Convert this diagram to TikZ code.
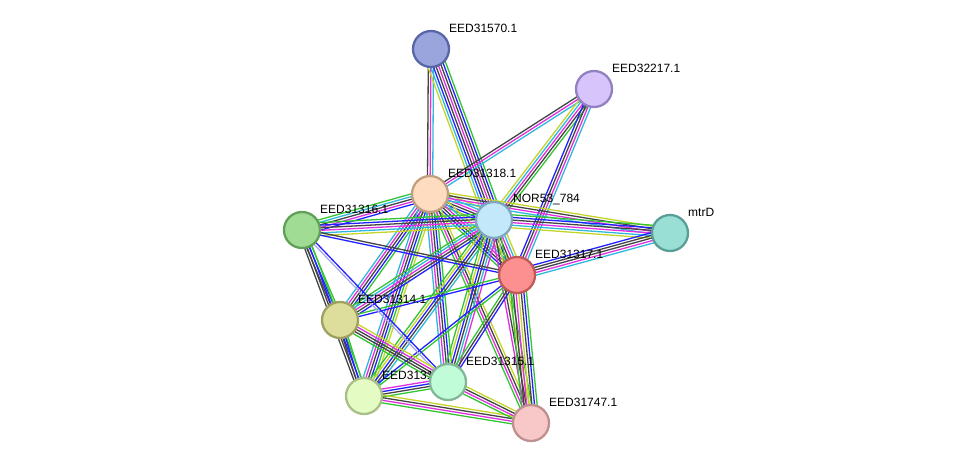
\documentclass[tikz,border=0pt]{standalone}
\usepackage{fontspec}
\setmainfont{Liberation Sans}
\usetikzlibrary{calc}
\pgfdeclarelayer{edges}
\pgfdeclarelayer{labels}
\pgfsetlayers{edges,labels,main}
\definecolor{G}{HTML}{33C433}
\definecolor{B}{HTML}{2222FF}
\definecolor{K}{HTML}{444444}
\definecolor{M}{HTML}{E030E0}
\definecolor{C}{HTML}{30B8DC}
\definecolor{Y}{HTML}{C4D428}
\definecolor{P}{HTML}{A8A8F0}
\tikzset{
  prot/.style={circle, minimum size=36pt, inner sep=0pt, line width=2.3pt},
  lab/.style={anchor=west, inner sep=0pt, font=\fontsize{12}{14}\selectfont, text=black},
  eline/.style={line width=1.3pt}
}
\newcommand\stredge[3]{%
  \foreach \c [count=\i] in {#3} {\xdef\nn{\i}}%
  \foreach \c [count=\i] in {#3} {%
    \pgfmathsetmacro\off{(\i-(\nn+1)/2)*2.6}%
    \draw[eline,\c] ($(#1.center)!\off pt!90:(#2.center)$) -- ($(#2.center)!\off pt!-90:(#1.center)$);
  }}
\begin{document}
\begin{tikzpicture}[x=1pt,y=-1pt]
\useasboundingbox (0,0) rectangle (976,469);
% nodes
\node[prot, fill={rgb,255:red,154;green,165;blue,222}, draw={rgb,255:red,88;green,102;blue,168}] (a70) at (431,49) {};
\node[prot, fill={rgb,255:red,214;green,196;blue,250}, draw={rgb,255:red,146;green,128;blue,192}] (a17) at (594,89) {};
\node[prot, fill={rgb,255:red,253;green,220;blue,192}, draw={rgb,255:red,192;green,160;blue,128}] (a18) at (430,194) {};
\node[prot, fill={rgb,255:red,195;green,232;blue,250}, draw={rgb,255:red,126;green,166;blue,190}] (nor) at (494,220) {};
\node[prot, fill={rgb,255:red,154;green,223;blue,214}, draw={rgb,255:red,90;green,158;blue,152}] (mtr) at (670,233) {};
\node[prot, fill={rgb,255:red,160;green,220;blue,148}, draw={rgb,255:red,96;green,160;blue,88}] (a16) at (302,230) {};
\node[prot, fill={rgb,255:red,252;green,144;blue,144}, draw={rgb,255:red,192;green,88;blue,88}] (a17b) at (517,275) {};
\node[prot, fill={rgb,255:red,222;green,222;blue,156}, draw={rgb,255:red,160;green,160;blue,96}] (a14) at (340,320) {};
\node[prot, fill={rgb,255:red,192;green,252;blue,216}, draw={rgb,255:red,128;green,184;blue,152}] (a15) at (448,382) {};
\node[prot, fill={rgb,255:red,228;green,252;blue,196}, draw={rgb,255:red,168;green,192;blue,136}] (a13) at (364,396) {};
\node[prot, fill={rgb,255:red,248;green,200;blue,200}, draw={rgb,255:red,192;green,144;blue,144}] (a47) at (531,423) {};
% labels
\begin{pgfonlayer}{labels}
\node[lab] (l70) at (449,28) {EED31570.1};
\node[lab] (l17) at (612,68) {EED32217.1};
\node[lab] (l18) at (448,173) {EED31318.1};
\node[lab] (lnor) at (513,199) {NOR53\_784};
\node[lab] (lmtr) at (688,212) {mtrD};
\node[lab] (l16) at (320,209) {EED31316.1};
\node[lab] (l17b) at (535,254) {EED31317.1};
\node[lab] (l14) at (358,299) {EED31314.1};
\node[lab] (l15) at (466,361) {EED31315.1};
\node[lab] (l13) at (382,375) {EED31313.1};
\node[lab] (l47) at (549,402) {EED31747.1};
\end{pgfonlayer}
% edges
\begin{pgfonlayer}{edges}
\stredge{a70}{a18}{K,M,C}
\stredge{a70}{nor}{Y,C,B,K,M,K,B,G}
\stredge{a17}{a18}{K,M,C}
\stredge{a17}{nor}{Y,C,M,K,G}
\stredge{a17}{a17b}{B,K,M,C}
\stredge{a18}{nor}{G,B,K,M,C,Y}
\stredge{a18}{a17b}{G,B,K,M,C,Y}
\stredge{a18}{mtr}{C,M,K,Y}
\stredge{a18}{a16}{G,C,K,M,B}
\stredge{a18}{a14}{C,M,K,B,G}
\stredge{a18}{a13}{C,M,K,B,G,Y}
\stredge{a18}{a15}{C,M,K,B,G}
\stredge{a18}{a47}{G,M,K,Y}
\stredge{nor}{mtr}{Y,C,M,K,B,G}
\stredge{nor}{a16}{G,B,K,M,C,Y}
\stredge{nor}{a17b}{G,B,K,M,C,Y}
\stredge{nor}{a14}{G,C,M,K,B}
\stredge{nor}{a13}{G,Y,B,K,C}
\stredge{nor}{a15}{G,Y,B,K,C,M}
\stredge{nor}{a47}{M,K,Y,G}
\stredge{a17b}{mtr}{C,M,K,K,B}
\stredge{a17b}{a16}{K,B}
\stredge{a17b}{a14}{G,B}
\stredge{a17b}{a13}{B,G}
\stredge{a17b}{a15}{G,K,B}
\stredge{a17b}{a47}{G,K,M,Y,K,B,G}
\stredge{a16}{a14}{K,B,G}
\stredge{a16}{a13}{K,K,B,G}
\stredge{a16}{a15}{P,B}
\stredge{a14}{a13}{K,B,G}
\stredge{a14}{a15}{G,K,K,M,Y}
\stredge{a13}{a15}{G,K,B,M}
\stredge{a13}{a47}{G,M,K,Y}
\stredge{a15}{a47}{G,M,K,Y}
\end{pgfonlayer}
\end{tikzpicture}
\end{document}
